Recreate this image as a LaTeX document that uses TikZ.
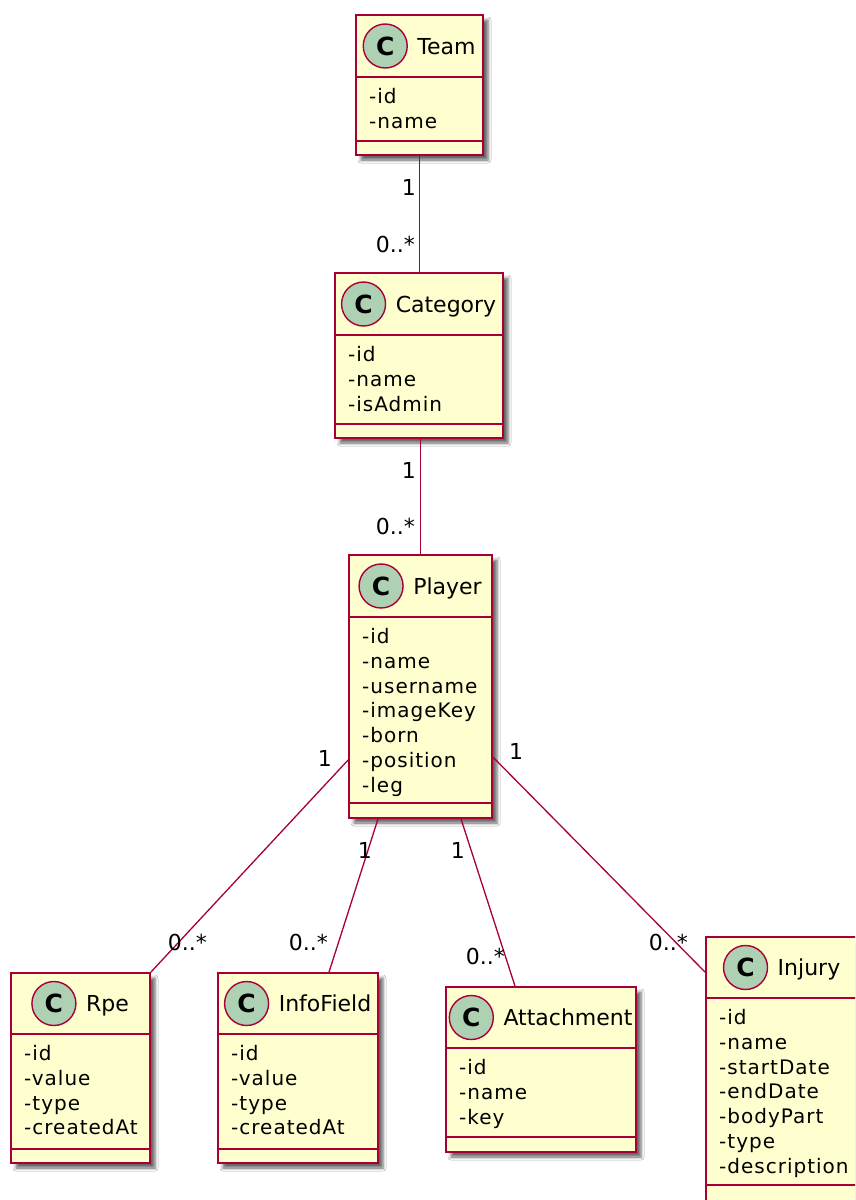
\documentclass[tikz,border=0pt]{standalone}
\usepackage{fontspec}
\setmainfont{DejaVu Sans}
\newfontfamily\attrfont[LetterSpace=5]{DejaVu Sans}
\usetikzlibrary{fit,shadows.blur}

\definecolor{umlfill}{HTML}{FEFECE}
\definecolor{umlborder}{HTML}{A80036}
\definecolor{umlcircle}{HTML}{ADD1B2}

\tikzset{
  classbox/.style={draw=umlborder, line width=1.8pt, fill=umlfill, inner sep=0pt,
    blur shadow={shadow xshift=5pt, shadow yshift=-5pt, shadow blur radius=3pt, shadow opacity=60}},
  divider/.style={draw=umlborder, line width=1.6pt},
  classtitle/.style={anchor=base, inner sep=0pt, font=\fontsize{22}{26}\selectfont},
  classmark/.style={circle, draw=umlborder, line width=1.4pt, fill=umlcircle, minimum size=44pt,
    inner sep=0pt, font=\fontsize{25}{28}\selectfont\bfseries},
  attr/.style={anchor=base west, inner sep=0pt, font=\attrfont\fontsize{20}{24}\selectfont},
  assoc/.style={draw=umlborder, line width=1.3pt},
  mult/.style={inner sep=0pt, font=\fontsize{22}{26}\selectfont},
}

% #1 name, #2 left, #3 top, #4 right, #5 header rule, #6 attribute rule,
% #7 bottom, #8 class name, #9 attribute list
\newcommand\umlclass[9]{%
  \node[classbox, fit={(#2,#3) (#4,#7)}] (#1) {};
  \draw[divider] (#2,#5) -- (#4,#5);
  \draw[divider] (#2,#6) -- (#4,#6);
  \node[classtitle] (#1-title) at ({(#2+#4)/2}, {(#3+#5)/2+8}) {\hspace{54pt}#8};
  \node[classmark] (#1-mark) at ([shift={(22pt,8pt)}]#1-title.base west) {C};
  \foreach \a [count=\i from 0] in {#9} {
    \node[attr] (#1-a\i) at (#2+13, {#5+26.5+24.8*\i}) {\a};
  }
}

\begin{document}
\begin{tikzpicture}[x=1pt, y=-1pt]
  \useasboundingbox (0,0) rectangle (855,1200);
  \clip (0,0) rectangle (855,1200);
  \fill[white] (0,0) rectangle (855,1200);

  % classes
  \umlclass{team}{356}{15}{483}{77}{141}{155}{Team}{-id,-name}
  \umlclass{category}{335}{273}{503}{335}{424}{438}{Category}{-id,-name,-isAdmin}
  \umlclass{player}{349}{555}{492}{617}{803}{818}{Player}%
    {-id,-name,-username,-imageKey,-born,-position,-leg}
  \umlclass{rpe}{11}{973}{150}{1034}{1149}{1163}{Rpe}{-id,-value,-type,-createdAt}
  \umlclass{infofield}{218}{973}{378}{1034}{1149}{1163}{InfoField}{-id,-value,-type,-createdAt}
  \umlclass{attachment}{446}{987}{636}{1048}{1137}{1152}{Attachment}{-id,-name,-key}
  \umlclass{injury}{706}{937}{858}{998}{1185}{1212}{Injury}%
    {-id,-name,-startDate,-endDate,-bodyPart,-type,-description}

  % associations
  \draw[assoc] (team.south) -- (team.south |- category.north);
  \draw[assoc] (player.north |- category.south) -- (player.north);
  \draw[assoc] ([yshift=-73.5pt]player.west) -- (rpe.north east);
  \draw[assoc] ([xshift=-42.5pt]player.south) -- ([xshift=31pt]infofield.north);
  \draw[assoc] ([xshift=40.5pt]player.south) -- ([xshift=-26pt]attachment.north);
  \draw[assoc] ([yshift=-70.5pt]player.east) -- ([yshift=-36pt]injury.north west);

  % multiplicities
  \node[mult, anchor=base east] (m1) at (416,195) {1};
  \node[mult, anchor=base east] (m2) at (415,252) {0..*};
  \node[mult, anchor=base east] (m3) at (416,478) {1};
  \node[mult, anchor=base east] (m4) at (415,534) {0..*};
  \node[mult, anchor=base east] (m5) at (332,766) {1};
  \node[mult, anchor=base east] (m6) at (207,950) {0..*};
  \node[mult, anchor=base east] (m7) at (372,858) {1};
  \node[mult, anchor=base east] (m8) at (328,950) {0..*};
  \node[mult, anchor=base east] (m9) at (465,858) {1};
  \node[mult, anchor=base east] (m10) at (505,964) {0..*};
  \node[mult, anchor=base west] (m11) at (509,759) {1};
  \node[mult, anchor=base east] (m12) at (688,950) {0..*};
\end{tikzpicture}
\end{document}
